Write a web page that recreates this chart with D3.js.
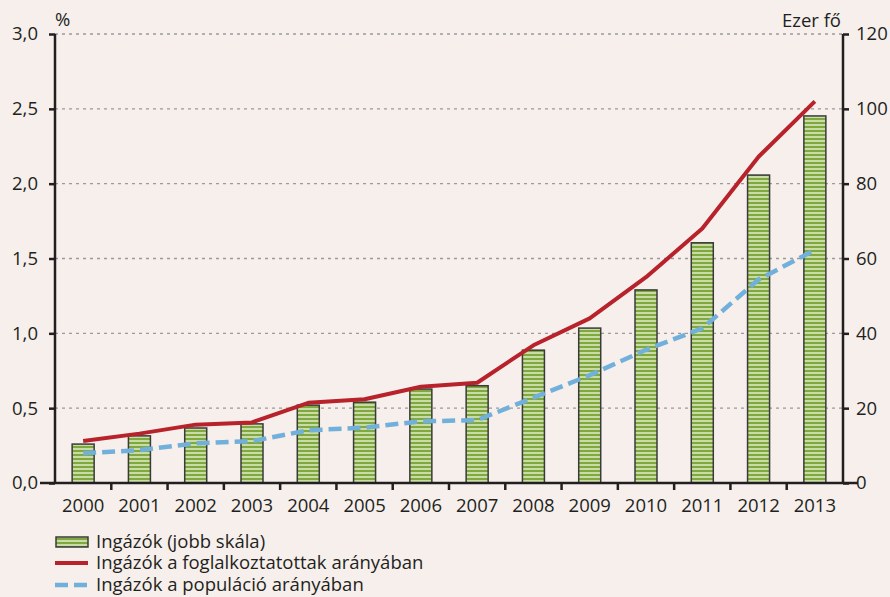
<!DOCTYPE html>
<html><head><meta charset="utf-8">
<script src="https://cdn.jsdelivr.net/npm/d3@7"></script>
<style>
html,body{margin:0;padding:0;background:#f6efec;}
svg{display:block;font-family:"Open Sans",sans-serif;}
</style></head><body>
<svg id="c" width="890" height="597"></svg>
<script>
const years = ["2000","2001","2002","2003","2004","2005","2006","2007","2008","2009","2010","2011","2012","2013"];
const commuters = [10.4,12.6,14.7,15.8,20.8,21.6,25.1,26.0,35.5,41.4,51.6,64.2,82.3,98.1];
const shareEmployed = [0.28,0.33,0.39,0.405,0.536,0.56,0.643,0.67,0.92,1.10,1.375,1.70,2.18,2.55];
const sharePopulation = [0.198,0.22,0.265,0.28,0.352,0.37,0.412,0.42,0.57,0.72,0.89,1.033,1.36,1.556];
const leftTicks = [0,0.5,1.0,1.5,2.0,2.5,3.0];
const rightTicks = [0,20,40,60,80,100,120];
const legendLabels = ["Ingázók (jobb skála)","Ingázók a foglalkoztatottak arányában","Ingázók a populáció arányában"];

const FONT = "'Open Sans',sans-serif";
const FS = 18.5;
const svg = d3.select("#c");
const L=55,R=843,T=34,B=483;
const x = d3.scaleBand().domain(years).range([L,R]);
const yL = d3.scaleLinear().domain([0,3]).range([B,T]);
const yR = d3.scaleLinear().domain([0,120]).range([B,T]);
const fmt = d=>d3.format(".1f")(d).replace(".",",");

const defs = svg.append("defs");
const pat = defs.append("pattern").attr("id","stripes").attr("patternUnits","userSpaceOnUse")
  .attr("width",4).attr("height",4);
pat.append("rect").attr("width",4).attr("height",4).attr("fill","#c9dca6");
pat.append("rect").attr("y",2).attr("width",4).attr("height",2).attr("fill","#7fa83f");

// gridlines
svg.append("g").selectAll("line").data(leftTicks.filter(d=>d>0)).join("line")
  .attr("x1",L).attr("x2",R).attr("y1",d=>yL(d)).attr("y2",d=>yL(d))
  .attr("stroke","#9a9a9a").attr("stroke-width",1.3).attr("stroke-dasharray","3,4");

// bars
const bw = 22;
svg.append("g").selectAll("rect").data(years).join("rect")
  .attr("x",(d)=>x(d)+x.bandwidth()/2-bw/2).attr("width",bw)
  .attr("y",(d,i)=>yR(commuters[i])).attr("height",(d,i)=>B-yR(commuters[i]))
  .attr("fill","url(#stripes)").attr("stroke","#3a3a3a").attr("stroke-width",1.5);

// lines
const cx = d=>x(d)+x.bandwidth()/2;
const lineE = d3.line().x((d,i)=>cx(years[i])).y(d=>yL(d));
svg.append("path").datum(shareEmployed).attr("d",lineE).attr("fill","none")
  .attr("stroke","#b7222b").attr("stroke-width",4).attr("stroke-linejoin","round");
svg.append("path").datum(sharePopulation).attr("d",lineE).attr("fill","none")
  .attr("stroke","#72b0dc").attr("stroke-width",4.5).attr("stroke-dasharray","13,6");

// axes
const axc="#231f20";
const gl = svg.append("g").attr("transform",`translate(${L},0)`)
  .call(d3.axisLeft(yL).tickValues(leftTicks).tickFormat(fmt).tickSize(6).tickPadding(11));
const gr = svg.append("g").attr("transform",`translate(${R},0)`)
  .call(d3.axisRight(yR).tickValues(rightTicks).tickSize(6).tickPadding(7));
const gx = svg.append("g").attr("transform",`translate(0,${B})`)
  .call(d3.axisBottom(x).tickSize(0).tickPadding(16));
[gl,gr,gx].forEach(g=>{
  g.select(".domain").attr("stroke",axc).attr("stroke-width",2.5);
  g.selectAll(".tick line").attr("stroke",axc).attr("stroke-width",2.5);
  g.selectAll("text").attr("font-size",FS).attr("fill",axc).attr("font-family",FONT);
});
gl.select(".domain").attr("d",`M0,${B}V${T}`);
gr.select(".domain").attr("d",`M0,${B}V${T}`);
gx.select(".domain").attr("d",`M${L-15},0H${R+15}`);
// x ticks at band boundaries
svg.append("g").selectAll("line").data(years.slice(1)).join("line")
  .attr("x1",d=>x(d)).attr("x2",d=>x(d)).attr("y1",B).attr("y2",B+7)
  .attr("stroke",axc).attr("stroke-width",2.5);

svg.append("text").attr("x",55).attr("y",26).attr("font-size",FS).attr("font-family",FONT).attr("fill",axc).text("%");
svg.append("text").attr("x",841).attr("y",27).attr("text-anchor","end").attr("font-size",FS).attr("font-family",FONT).attr("fill",axc).text("Ezer fő");

// legend
const lg = svg.append("g");
const ly = [542,563,585];
lg.append("rect").attr("x",56).attr("y",ly[0]-5).attr("width",32).attr("height",10)
  .attr("fill","url(#stripes)").attr("stroke","#3a3a3a").attr("stroke-width",1.5);
lg.append("line").attr("x1",55).attr("x2",88).attr("y1",ly[1]).attr("y2",ly[1])
  .attr("stroke","#b7222b").attr("stroke-width",4);
lg.append("line").attr("x1",55).attr("x2",88).attr("y1",ly[2]).attr("y2",ly[2])
  .attr("stroke","#72b0dc").attr("stroke-width",4.5).attr("stroke-dasharray","13,6");
lg.selectAll("text").data(legendLabels).join("text")
  .attr("x",96).attr("y",(d,i)=>ly[i]).attr("dy","0.35em").attr("font-size",FS).attr("font-family",FONT).attr("fill",axc).text(d=>d);
</script>
</body></html>
